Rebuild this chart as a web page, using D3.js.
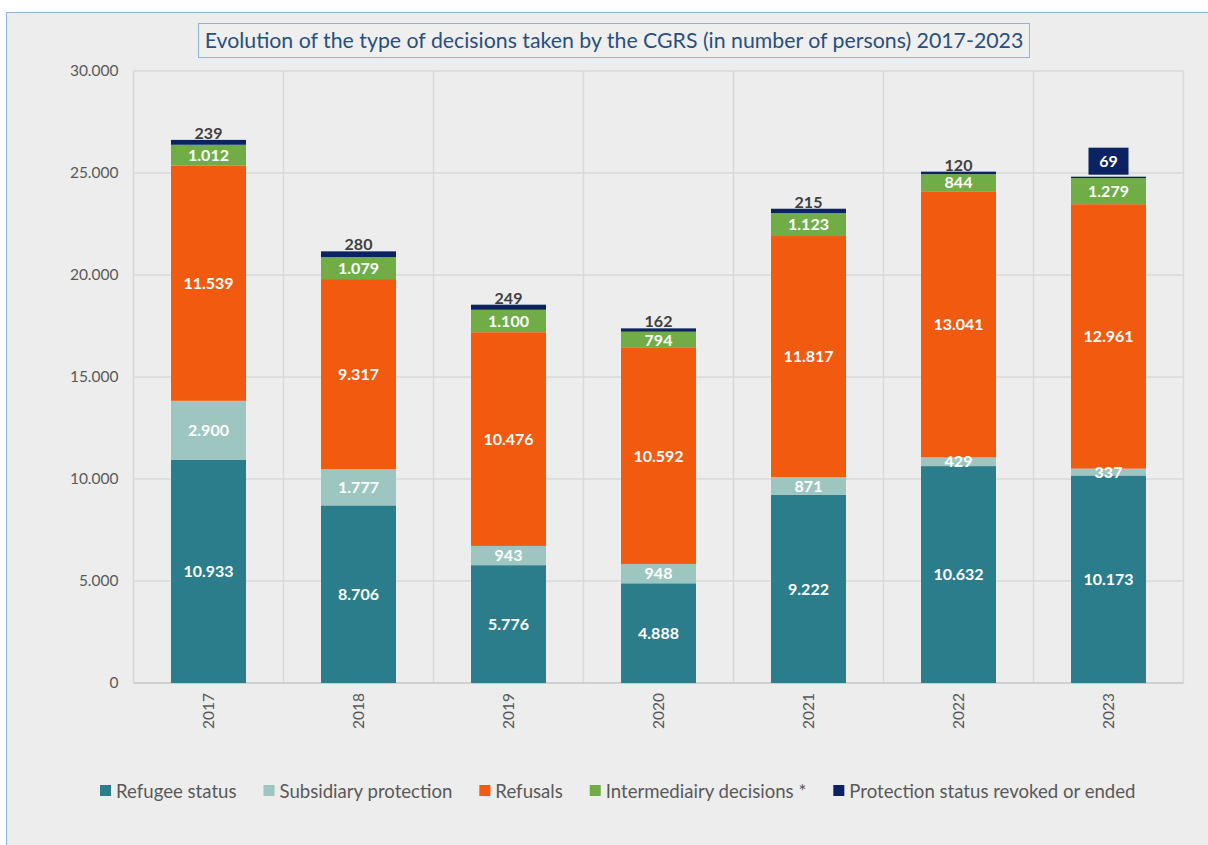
<!DOCTYPE html>
<html lang="en">
<head>
  <meta charset="UTF-8">
  <title>CGRS decisions 2017-2023</title>
  <script src="https://d3js.org/d3.v7.min.js"></script>
  <style>
    body {
      margin: 0;
      background: #fff;
      font-family: Lato, sans-serif;
    }
  </style>
</head>
<body>
  <div class="chart"></div>
  <script>
    const years = ['2017', '2018', '2019', '2020', '2021', '2022', '2023'];
    const refugee = [10933, 8706, 5776, 4888, 9222, 10632, 10173];
    const subsidiary = [2900, 1777, 943, 948, 871, 429, 337];
    const refusals = [11539, 9317, 10476, 10592, 11817, 13041, 12961];
    const intermediary = [1012, 1079, 1100, 794, 1123, 844, 1279];
    const revoked = [239, 280, 249, 162, 215, 120, 69];
    const seriesNames = ['Refugee status', 'Subsidiary protection', 'Refusals',
      'Intermediairy decisions *', 'Protection status revoked or ended'];
    const yTicks = [0, 5000, 10000, 15000, 20000, 25000, 30000];

    const keys = ['refugee', 'subsidiary', 'refusals', 'intermediary', 'revoked'];
    const colors = ['#2c7d8b', '#9dc6c0', '#f25a0f', '#70ad47', '#0b2263'];
    const table = years.map((yr, i) => ({
      year: yr, refugee: refugee[i], subsidiary: subsidiary[i], refusals: refusals[i],
      intermediary: intermediary[i], revoked: revoked[i]
    }));

    const W = 1208, H = 845;
    const margin = { top: 71, right: 24.5, bottom: 162, left: 133.5 };
    const width = W - margin.left - margin.right;
    const height = H - margin.top - margin.bottom;

    const fmt = d3.formatLocale({ decimal: ',', thousands: '.', grouping: [3], currency: ['', ''] }).format(',');

    const root = d3.select('.chart').append('svg').attr('width', W).attr('height', H);

    // chart area + title box
    root.append('rect').attr('x', 6.5).attr('y', 12.5).attr('width', 1240).attr('height', 860)
      .attr('fill', '#ededed').attr('stroke', '#8fb3dc').attr('stroke-width', 1);
    root.append('rect').attr('x', 198.5).attr('y', 23.5).attr('width', 831).attr('height', 34)
      .attr('fill', '#efefef').attr('stroke', '#8fb3dc');
    root.append('text').attr('x', 614).attr('y', 48).attr('text-anchor', 'middle')
      .attr('font-size', 21.3).attr('fill', '#27507e')
      .text('Evolution of the type of decisions taken by the CGRS (in number of persons) 2017-2023');

    const svg = root.append('g').attr('transform', `translate(${margin.left}, ${margin.top})`);

    const x = d3.scaleBand().domain(years).range([0, width]).paddingInner(0.5).paddingOuter(0.25);
    const y = d3.scaleLinear().domain([0, 30000]).range([height, 0]);

    // gridlines
    svg.append('g').selectAll('line').data(yTicks.slice(1)).join('line')
      .attr('x1', 0).attr('x2', width).attr('y1', d => y(d)).attr('y2', d => y(d))
      .attr('stroke', '#d9d9d9').attr('stroke-width', 1.5);
    svg.append('g').selectAll('line').data(d3.range(years.length + 1)).join('line')
      .attr('x1', d => d * x.step()).attr('x2', d => d * x.step()).attr('y1', 0).attr('y2', height)
      .attr('stroke', '#d9d9d9').attr('stroke-width', 1.5);
    svg.append('line').attr('x1', 0).attr('x2', width).attr('y1', height).attr('y2', height)
      .attr('stroke', '#c4c4c4').attr('stroke-width', 1.5);

    // bars
    const stacked = d3.stack().keys(keys)(table);
    const layers = svg.append('g').selectAll('g').data(stacked).join('g')
      .attr('fill', (d, i) => colors[i]);
    layers.selectAll('rect').data(d => d).join('rect')
      .attr('x', d => x(d.data.year)).attr('width', x.bandwidth())
      .attr('y', d => y(d[1])).attr('height', d => y(d[0]) - y(d[1]));

    // labels inside
    stacked.slice(0, 4).forEach(s => {
      svg.append('g').selectAll('text').data(s).join('text')
        .attr('x', d => x(d.data.year) + x.bandwidth() / 2)
        .attr('y', d => (y(d[0]) + y(d[1])) / 2)
        .attr('dy', '0.36em').attr('text-anchor', 'middle')
        .attr('font-size', 16).attr('font-weight', 'bold').attr('fill', '#fff')
        .text(d => fmt(d[1] - d[0]));
    });

    // labels on top (last year boxed)
    const topLayer = stacked[4];
    const lastYear = years[years.length - 1];
    topLayer.forEach(d => {
      const cx = x(d.data.year) + x.bandwidth() / 2;
      const ty = y(d[1]);
      if (d.data.year === lastYear) {
        svg.append('rect').attr('x', cx - 20).attr('y', ty - 29).attr('width', 40).attr('height', 27)
          .attr('fill', colors[4]);
        svg.append('text').attr('x', cx).attr('y', ty - 15.5).attr('dy', '0.36em')
          .attr('text-anchor', 'middle').attr('font-size', 16).attr('font-weight', 'bold')
          .attr('fill', '#fff').text(fmt(d[1] - d[0]));
      } else {
        svg.append('text').attr('x', cx).attr('y', ty - 1)
          .attr('text-anchor', 'middle').attr('font-size', 16).attr('font-weight', 'bold')
          .attr('fill', '#404040').text(fmt(d[1] - d[0]));
      }
    });

    // axes
    const yAxis = svg.append('g').call(d3.axisLeft(y).tickValues(yTicks).tickFormat(fmt).tickSize(0).tickPadding(15));
    yAxis.select('.domain').remove();
    yAxis.selectAll('text').attr('font-family', 'Lato, sans-serif').attr('font-size', 15.5).attr('fill', '#595959');

    const xAxis = svg.append('g').attr('transform', `translate(0, ${height})`)
      .call(d3.axisBottom(x).tickSize(0).tickPadding(0));
    xAxis.select('.domain').remove();
    xAxis.selectAll('text').attr('font-family', 'Lato, sans-serif').attr('font-size', 15.5).attr('fill', '#595959')
      .attr('text-anchor', 'end').attr('dy', '0.35em')
      .attr('transform', 'translate(0, 10) rotate(-90)').attr('x', 0).attr('y', 0);

    // legend
    const legend = root.append('g').attr('transform', 'translate(100, 791)');
    let lx = 0;
    seriesNames.forEach((name, i) => {
      const g = legend.append('g').attr('transform', `translate(${lx}, 0)`);
      g.append('rect').attr('x', 0).attr('y', -6).attr('width', 11).attr('height', 11).attr('fill', colors[i]);
      const t = g.append('text').attr('x', 16).attr('y', 0).attr('dy', '0.35em')
        .attr('font-size', 18.6).attr('fill', '#595959').text(name);
      lx += 16 + t.node().getComputedTextLength() + 27;
    });
  </script>
</body>
</html>
